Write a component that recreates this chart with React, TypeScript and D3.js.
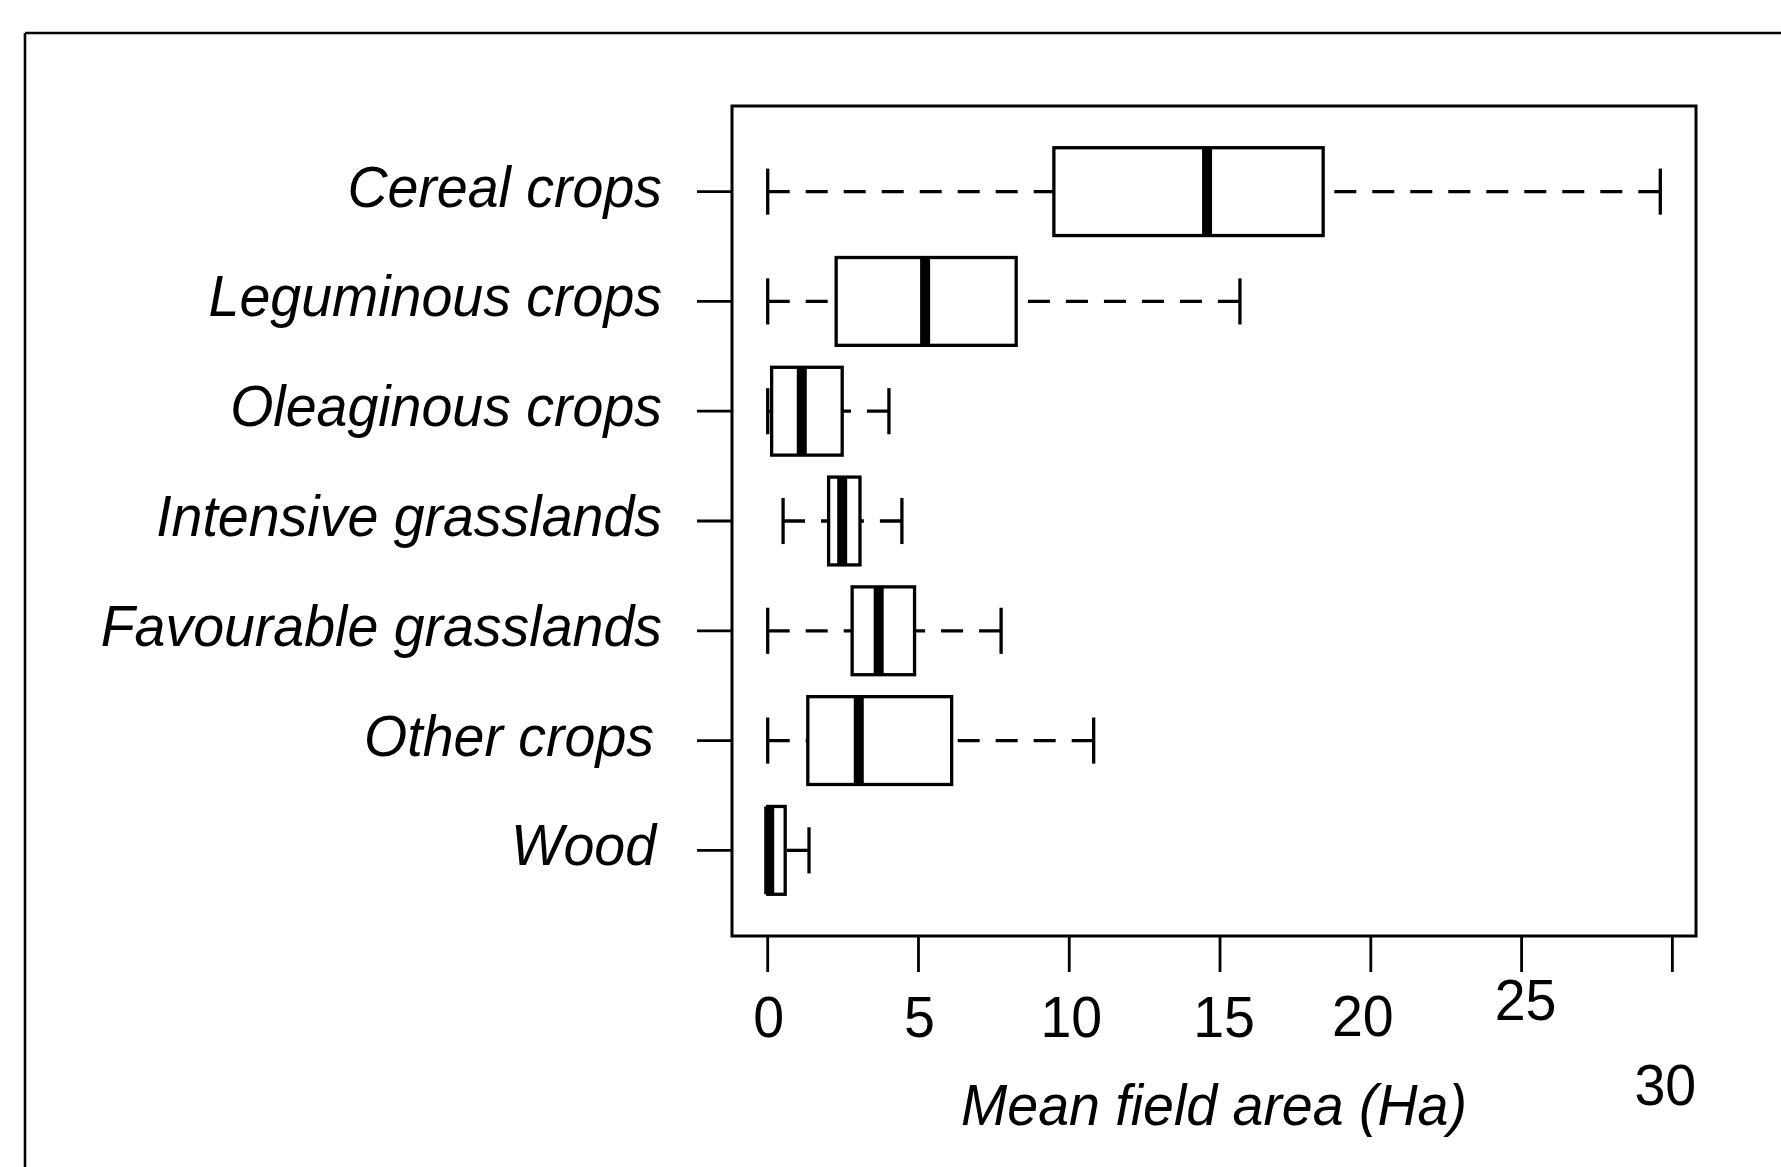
import React from "react";
import * as d3 from "d3";

const categories = [
  "Cereal crops",
  "Leguminous crops",
  "Oleaginous crops",
  "Intensive grasslands",
  "Favourable grasslands",
  "Other crops",
  "Wood",
];
const whiskerLow = [0, 0, 0, 0.51, 0, 0, 0];
const q1 = [9.49, 2.27, 0.13, 2.02, 2.8, 1.33, 0];
const median = [14.57, 5.22, 1.13, 2.47, 3.68, 3.02, 0.05];
const q3 = [18.42, 8.24, 2.47, 3.06, 4.87, 6.1, 0.58];
const whiskerHigh = [29.6, 15.66, 4.02, 4.45, 7.74, 10.81, 1.37];
const xTicks = [0, 5, 10, 15, 20, 25, 30];
const xTitle = "Mean field area (Ha)";

// layout (not data)
const W = 1781;
const H = 1167;
const plot = { left: 732, right: 1696, top: 106, bottom: 936 };
const labelNudgeX: Record<string, number> = { "Other crops": -8, Wood: -6 };
const tickLabelNudge: Record<number, [number, number]> = {
  0: [1, 1],
  5: [1, 1],
  10: [2, 1],
  15: [4, 1],
  20: [-8, 0],
  25: [4, -16],
  30: [-7, 69],
};
const FONT = "'Liberation Sans', Arial, Helvetica, sans-serif";
const FS = 55.5;
// text in the reference is slightly taller than wide
const VSTRETCH = 1.05;

export default function App() {
  const allVals = [...whiskerLow, ...whiskerHigh];
  const [mn, mx] = d3.extent(allVals) as [number, number];
  const ext = (mx - mn) * 0.04;
  const x = d3.scaleLinear().domain([mn - ext, mx + ext]).range([plot.left, plot.right]);
  const n = categories.length;
  const yext = n * 0.04;
  const y = d3
    .scaleLinear()
    .domain([0.5 - yext, n + 0.5 + yext])
    .range([plot.top, plot.bottom]);
  const unit = y(1) - y(0);
  const boxHalf = 0.4 * unit;
  const capHalf = 0.21 * unit;
  const LW = 3.3;

  const Txt = (p: { x: number; y: number; anchor: string; italic?: boolean; children: any }) => (
    <text
      transform={`translate(${p.x},${p.y}) scale(1,${VSTRETCH})`}
      textAnchor={p.anchor}
      fontStyle={p.italic ? "italic" : "normal"}
      fontSize={FS}
      fill="#000"
    >
      {p.children}
    </text>
  );

  return (
    <svg
      width={W}
      height={H}
      style={{ position: "absolute", left: 0, top: 0, background: "#fff" }}
      fontFamily={FONT}
    >
      <rect x={0} y={0} width={W} height={H} fill="#fff" />
      {/* outer frame (top + left only visible) */}
      <line x1={25} y1={33} x2={W} y2={33} stroke="#000" strokeWidth={2.6} />
      <line x1={25} y1={33} x2={25} y2={H} stroke="#000" strokeWidth={2.6} />

      {/* plot box */}
      <rect
        x={plot.left}
        y={plot.top}
        width={plot.right - plot.left}
        height={plot.bottom - plot.top}
        fill="none"
        stroke="#000"
        strokeWidth={3}
      />

      {categories.map((c, i) => {
        const cy = y(i + 1);
        return (
          <g key={c}>
            <line x1={697} x2={plot.left} y1={cy} y2={cy} stroke="#000" strokeWidth={2.8} />
            <Txt x={662 + (labelNudgeX[c] || 0)} y={cy + 15} anchor="end" italic>
              {c}
            </Txt>
            {whiskerLow[i] < q1[i] && (
              <line
                x1={x(whiskerLow[i])}
                x2={x(q1[i])}
                y1={cy}
                y2={cy}
                stroke="#000"
                strokeWidth={LW}
                strokeDasharray="22 16"
              />
            )}
            {whiskerHigh[i] > q3[i] && (
              <line
                x1={x(whiskerHigh[i])}
                x2={x(q3[i])}
                y1={cy}
                y2={cy}
                stroke="#000"
                strokeWidth={LW}
                strokeDasharray="22 16"
              />
            )}
            <line
              x1={x(whiskerLow[i])}
              x2={x(whiskerLow[i])}
              y1={cy - capHalf}
              y2={cy + capHalf}
              stroke="#000"
              strokeWidth={LW}
            />
            <line
              x1={x(whiskerHigh[i])}
              x2={x(whiskerHigh[i])}
              y1={cy - capHalf}
              y2={cy + capHalf}
              stroke="#000"
              strokeWidth={LW}
            />
            <rect
              x={x(q1[i])}
              y={cy - boxHalf}
              width={x(q3[i]) - x(q1[i])}
              height={2 * boxHalf}
              fill="#fff"
              stroke="#000"
              strokeWidth={LW}
            />
            <line
              x1={x(median[i])}
              x2={x(median[i])}
              y1={cy - boxHalf}
              y2={cy + boxHalf}
              stroke="#000"
              strokeWidth={10}
            />
          </g>
        );
      })}

      {xTicks.map((t) => {
        const [dx, dy] = tickLabelNudge[t] || [0, 0];
        return (
          <g key={t}>
            <line x1={x(t)} x2={x(t)} y1={plot.bottom} y2={972} stroke="#000" strokeWidth={2.8} />
            <Txt x={x(t) + dx} y={1036 + dy} anchor="middle">
              {t}
            </Txt>
          </g>
        );
      })}
      <Txt x={(plot.left + plot.right) / 2} y={1125} anchor="middle" italic>
        {xTitle}
      </Txt>
    </svg>
  );
}
